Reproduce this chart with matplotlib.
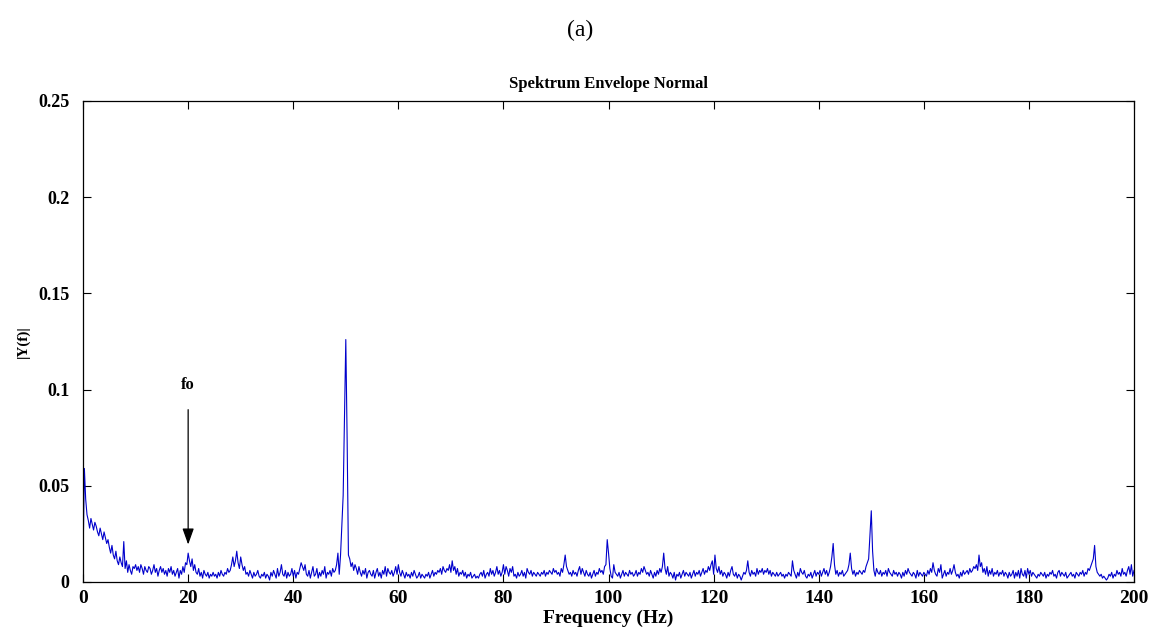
import numpy as np
import matplotlib
matplotlib.use("Agg")
import matplotlib.pyplot as plt

# frequency grid, 0.25 Hz steps from 0 to 200 Hz
freq_step = 0.25
# |Y(f)| in thousandths, one row per 5 Hz
amp_milli = [
    12, 59, 43, 35, 32, 28, 33, 30, 27, 31, 29, 26, 24, 28, 25, 22, 26, 23, 20, 22,
    18, 15, 19, 14, 12, 16, 11, 9, 13, 10, 8, 21, 7, 11, 5, 9, 6, 4, 8, 7,
    9, 6, 8, 5, 9, 7, 4, 8, 6, 5, 8, 7, 4, 6, 9, 5, 7, 3, 6, 8,
    5, 7, 4, 6, 3, 7, 5, 8, 4, 6, 3, 5, 7, 2, 6, 4, 8, 5, 10, 9,
    15, 11, 8, 12, 6, 9, 5, 4, 7, 3, 5, 2, 6, 4, 3, 5, 2, 4, 3, 5,
    3, 4, 2, 5, 3, 6, 4, 3, 5, 4, 7, 5, 6, 9, 13, 8, 11, 16, 10, 7,
    13, 9, 6, 8, 4, 5, 3, 6, 4, 2, 5, 3, 4, 6, 3, 2, 4, 3, 5, 2,
    4, 3, 1, 5, 3, 6, 4, 2, 7, 3, 5, 9, 4, 3, 6, 2, 5, 3, 4, 7,
    3, 6, 2, 5, 4, 7, 10, 8, 6, 9, 4, 3, 6, 2, 5, 8, 3, 4, 7, 2,
    5, 3, 6, 4, 8, 2, 5, 4, 6, 3, 7, 5, 6, 9, 15, 4, 14, 30, 45, 86,
    126, 75, 14, 12, 8, 10, 6, 9, 7, 4, 8, 5, 3, 6, 4, 7, 2, 5, 6, 4,
    3, 6, 2, 5, 7, 3, 5, 2, 6, 4, 8, 3, 7, 5, 4, 6, 3, 5, 8, 4,
    9, 5, 3, 6, 4, 2, 5, 3, 4, 2, 5, 3, 6, 4, 2, 3, 5, 2, 4, 3,
    2, 4, 3, 5, 2, 4, 6, 3, 5, 4, 6, 5, 7, 4, 8, 6, 5, 7, 6, 9,
    5, 11, 6, 8, 4, 7, 3, 5, 4, 6, 3, 5, 2, 4, 3, 5, 2, 3, 4, 2,
    3, 2, 4, 5, 3, 6, 2, 4, 5, 3, 7, 4, 6, 3, 5, 8, 4, 6, 3, 5,
    9, 4, 8, 6, 3, 7, 5, 8, 3, 4, 2, 5, 3, 4, 6, 3, 5, 2, 7, 5,
    4, 6, 3, 5, 4, 3, 5, 4, 3, 5, 4, 6, 3, 5, 4, 6, 5, 4, 7, 5,
    6, 4, 5, 3, 7, 5, 9, 14, 8, 6, 4, 5, 3, 6, 4, 5, 3, 6, 8, 4,
    7, 5, 3, 6, 4, 3, 5, 2, 4, 6, 3, 5, 4, 7, 5, 6, 4, 8, 9, 22,
    15, 7, 3, 2, 9, 5, 4, 3, 5, 2, 4, 6, 3, 5, 4, 3, 6, 4, 5, 3,
    4, 6, 3, 5, 4, 7, 5, 8, 6, 4, 5, 3, 6, 4, 2, 5, 3, 6, 4, 7,
    5, 8, 15, 7, 4, 8, 3, 5, 4, 2, 5, 1, 4, 3, 5, 2, 4, 6, 3, 5,
    4, 3, 5, 2, 4, 6, 3, 5, 4, 6, 3, 5, 7, 4, 6, 5, 8, 6, 9, 11,
    4, 14, 7, 5, 8, 4, 6, 3, 5, 4, 2, 5, 3, 6, 8, 4, 3, 5, 2, 4,
    3, 1, 3, 5, 4, 6, 11, 5, 3, 6, 4, 5, 3, 7, 4, 6, 5, 7, 4, 6,
    5, 7, 4, 6, 3, 5, 4, 3, 5, 3, 4, 5, 3, 4, 2, 4, 3, 5, 4, 3,
    11, 6, 4, 2, 5, 3, 7, 5, 4, 6, 3, 2, 4, 3, 5, 2, 4, 6, 3, 5,
    4, 6, 3, 5, 7, 4, 6, 3, 5, 8, 13, 20, 9, 4, 6, 3, 5, 4, 6, 3,
    4, 5, 6, 9, 15, 7, 4, 6, 3, 5, 4, 6, 5, 4, 6, 5, 8, 10, 12, 24,
    37, 16, 6, 3, 7, 5, 4, 6, 3, 5, 4, 6, 3, 7, 5, 4, 3, 6, 4, 5,
    3, 5, 4, 2, 5, 3, 6, 4, 7, 5, 4, 3, 5, 4, 2, 6, 3, 5, 4, 3,
    5, 4, 3, 6, 4, 7, 5, 10, 6, 4, 3, 7, 5, 9, 2, 4, 6, 3, 5, 4,
    7, 4, 6, 9, 5, 3, 4, 2, 5, 3, 6, 4, 5, 6, 4, 7, 5, 6, 8, 7,
    9, 6, 14, 8, 10, 5, 7, 4, 8, 3, 6, 4, 7, 3, 5, 4, 6, 3, 5, 4,
    6, 3, 5, 4, 2, 5, 3, 4, 6, 2, 5, 3, 6, 2, 7, 4, 3, 6, 2, 7,
    4, 6, 3, 5, 4, 3, 2, 4, 3, 5, 4, 3, 5, 2, 4, 3, 5, 4, 6, 3,
    4, 2, 5, 6, 3, 5, 4, 3, 5, 2, 3, 4, 5, 3, 4, 2, 5, 4, 3, 5,
    4, 6, 3, 5, 4, 7, 6, 8, 10, 12, 19, 8, 5, 4, 3, 4, 2, 3, 2, 1,
    2, 4, 3, 5, 2, 4, 3, 6, 4, 5, 3, 7, 4, 5, 3, 6, 8, 4, 9, 3,
    6,
]

x_ticks = [0, 20, 40, 60, 80, 100, 120, 140, 160, 180, 200]
y_ticks = [0, 0.05, 0.1, 0.15, 0.2, 0.25]
y_tick_labels = ["0", "0.05", "0.1", "0.15", "0.2", "0.25"]

freq = np.arange(len(amp_milli)) * freq_step
amp = np.array(amp_milli) / 1000.0

plt.rcParams["font.family"] = ["Liberation Serif", "DejaVu Serif"]

fig = plt.figure(figsize=(11.6, 6.31), dpi=100)
ax = fig.add_axes([0.0716, 0.0777, 0.906, 0.7623])

ax.plot(freq, amp, color="#0000cc", lw=0.8)

ax.set_xlim(0, 200)
ax.set_ylim(0, 0.25)
ax.set_xticks(x_ticks)
ax.set_xticklabels([str(t) for t in x_ticks], fontweight="bold", fontsize=14)
ax.set_yticks(y_ticks)
ax.set_yticklabels(y_tick_labels, fontweight="bold", fontsize=13)
ax.tick_params(direction="in", top=True, right=True, length=6, width=0.8)
ax.tick_params(axis="x", pad=6)
ax.tick_params(axis="y", pad=10)
for s in ax.spines.values():
    s.set_linewidth(0.9)

ax.set_xlabel("Frequency (Hz)", fontweight="bold", fontsize=14, labelpad=2)
ax.set_ylabel("|Y(f)|", fontweight="bold", fontsize=11, labelpad=6)
ax.set_title("Spektrum Envelope Normal", fontweight="bold", fontsize=12, pad=9)

# marker for the shaft frequency
ax.annotate("", xy=(20, 0.018), xytext=(20, 0.091),
            arrowprops=dict(arrowstyle="-|>,head_width=0.25,head_length=0.7",
                            color="black", lw=0.9, mutation_scale=14))
ax.text(20, 0.098, "fo", ha="center", va="bottom", fontweight="bold", fontsize=12)

fig.text(0.5, 0.952, "(a)", ha="center", va="center", fontsize=17)

fig.savefig("out.png", dpi=100)
